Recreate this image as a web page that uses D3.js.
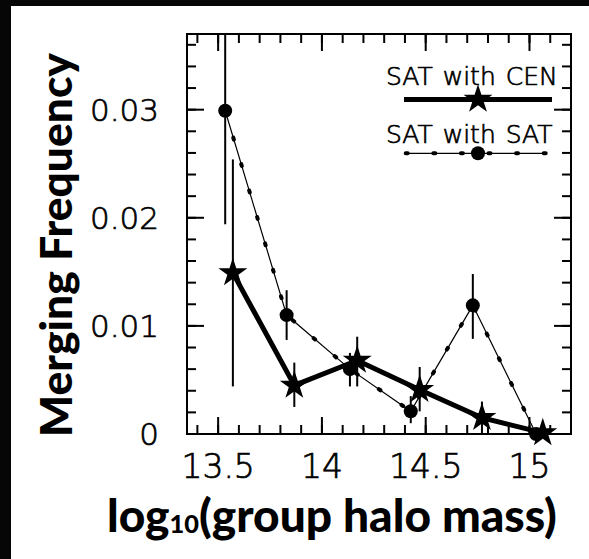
<!DOCTYPE html>
<html><head><meta charset="utf-8">
<script src="https://cdn.jsdelivr.net/npm/d3@7"></script>
<style>html,body{margin:0;padding:0;background:#050505;} svg{display:block}</style>
</head><body>
<svg id="c" width="589" height="559"></svg>
<script>
// ---- data ----
const cenX  = [13.571, 13.867, 14.170, 14.471, 14.771, 15.064];
const cenY  = [0.0149, 0.0045, 0.0068, 0.0041, 0.0015, 0.0001];
const cenLo = [0.0044, 0.0025, 0.0044, 0.0021, 0.0000, 0.0001];
const cenHi = [0.0254, 0.0066, 0.0090, 0.0062, 0.0030, 0.0001];
const satX  = [13.534, 13.830, 14.135, 14.428, 14.727, 15.032];
const satY  = [0.0299, 0.0110, 0.0060, 0.0021, 0.0119, 0.0000];
const satLo = [0.0194, 0.0087, 0.0044, 0.0010, 0.0088, 0.0000];
const satHi = [0.0404, 0.0133, 0.0075, 0.0035, 0.0148, 0.0000];
const xTickValues = [13.5, 14, 14.5, 15];
const xTickLabels = ["13.5", "14", "14.5", "15"];
const yTickValues = [0, 0.01, 0.02, 0.03];
const yTickLabels = ["0", "0.01", "0.02", "0.03"];
const legendLabels = ["SAT with CEN", "SAT with SAT"];
const xTitleParts = ["log", "10", "(group halo mass)"];
const yTitle = "Merging Frequency";

// ---- layout ----
const svg = d3.select("#c");
const L = 187, R = 571, T = 34, B = 434;
const x = d3.scaleLinear([13.35, 15.2], [L, R]);
const y = d3.scaleLinear([0, 0.037], [B, T]);
const tickFont = "'DejaVu Sans', 'Liberation Sans', sans-serif";
const titleFont = "'Comic Sans MS', 'Lato', 'Open Sans', sans-serif";

svg.append("rect").attr("x", 0).attr("y", 0).attr("width", 589).attr("height", 559).attr("fill", "#060606");
svg.append("rect").attr("x", 11).attr("y", 6).attr("width", 578).attr("height", 553).attr("fill", "#fff");

svg.append("defs").append("clipPath").attr("id", "plotclip")
  .append("rect").attr("x", L).attr("y", T).attr("width", R - L).attr("height", B - T);

// ---- ticks (inward, all four sides) ----
const xMinor = x.ticks(20).filter(v => v > 13.35 && v < 15.19);
const yMinor = y.ticks(20).filter(v => v > 0.0001 && v < 0.0369);
const gT = svg.append("g").attr("stroke", "#000").attr("stroke-width", 2);
function tickSet(vals, len, side) {
  vals.forEach(v => {
    if (side === "b") gT.append("line").attr("x1", x(v)).attr("x2", x(v)).attr("y1", B).attr("y2", B - len);
    if (side === "t") gT.append("line").attr("x1", x(v)).attr("x2", x(v)).attr("y1", T).attr("y2", T + len);
    if (side === "l") gT.append("line").attr("y1", y(v)).attr("y2", y(v)).attr("x1", L).attr("x2", L + len);
    if (side === "r") gT.append("line").attr("y1", y(v)).attr("y2", y(v)).attr("x1", R).attr("x2", R - len);
  });
}
["b", "t"].forEach(s => { tickSet(xMinor, 9, s); tickSet(xTickValues, 17, s); });
["l", "r"].forEach(s => { tickSet(yMinor, 9, s); tickSet(yTickValues, 17, s); });

svg.append("rect").attr("x", L).attr("y", T).attr("width", R - L).attr("height", B - T)
  .attr("fill", "none").attr("stroke", "#000").attr("stroke-width", 2);

// tick labels
function thin(sel) {
  return sel.attr("font-family", tickFont).attr("font-weight", 200).attr("fill", "#000")
    .attr("stroke", "#000").attr("stroke-width", 0.7);
}
thin(svg.append("g").selectAll("text").data(xTickValues).join("text")
  .attr("x", d => x(d)).attr("y", 478).attr("text-anchor", "middle").attr("font-size", 33)
  .text((d, i) => xTickLabels[i]));
thin(svg.append("g").selectAll("text").data(yTickValues).join("text")
  .attr("x", 159).attr("y", d => y(d) + 11).attr("text-anchor", "end").attr("font-size", 31)
  .text((d, i) => yTickLabels[i]));

// ---- data marks ----
const sat = satX.map((v, i) => ({ x: v, y: satY[i], lo: satLo[i], hi: satHi[i] }));
const cen = cenX.map((v, i) => ({ x: v, y: cenY[i], lo: cenLo[i], hi: cenHi[i] }));
const line = d3.line().x(d => x(d.x)).y(d => y(d.y));

// SAT with SAT: thin line with dots
svg.append("path").attr("d", line(sat)).attr("fill", "none").attr("stroke", "#000").attr("stroke-width", 1.2);
svg.append("path").attr("d", line(sat)).attr("fill", "none").attr("stroke", "#000").attr("stroke-width", 4)
  .attr("stroke-linecap", "round").attr("stroke-dasharray", "2 25.6").attr("stroke-dashoffset", -0.5);

// error bars
const gE = svg.append("g").attr("clip-path", "url(#plotclip)").attr("stroke", "#000").attr("stroke-width", 2);
gE.selectAll(".es").data(sat).join("line").attr("class", "es")
  .attr("x1", d => x(d.x)).attr("x2", d => x(d.x)).attr("y1", d => y(d.lo)).attr("y2", d => y(d.hi));
gE.selectAll(".ec").data(cen).join("line").attr("class", "ec")
  .attr("x1", d => x(d.x)).attr("x2", d => x(d.x)).attr("y1", d => y(d.lo)).attr("y2", d => y(d.hi));

svg.append("g").selectAll("circle").data(sat).join("circle")
  .attr("cx", d => x(d.x)).attr("cy", d => y(d.y)).attr("r", 7).attr("fill", "#000");

// SAT with CEN: thick line with stars
svg.append("path").attr("d", line(cen)).attr("fill", "none").attr("stroke", "#000").attr("stroke-width", 5)
  .attr("stroke-linejoin", "round");
const star = d3.symbol().type(d3.symbolStar).size(260);
svg.append("g").selectAll("path").data(cen).join("path")
  .attr("transform", d => `translate(${x(d.x)},${y(d.y)})`).attr("d", star()).attr("fill", "#000");

// ---- legend ----
const lg = svg.append("g");
thin(lg.append("text").attr("x", 386).attr("y", 85).attr("font-size", 25)
  .attr("word-spacing", 2).text(legendLabels[0]));
lg.append("line").attr("x1", 404).attr("x2", 552).attr("y1", 99.5).attr("y2", 99.5)
  .attr("stroke", "#000").attr("stroke-width", 5);
lg.append("path").attr("transform", "translate(478,99.5)").attr("d", star()).attr("fill", "#000");
thin(lg.append("text").attr("x", 386).attr("y", 143).attr("font-size", 25)
  .attr("word-spacing", 2).text(legendLabels[1]));
const legPts = [[404, 153.3], [547, 153.3]];
lg.append("path").attr("d", d3.line()(legPts)).attr("stroke", "#000").attr("stroke-width", 1.2);
lg.append("path").attr("d", d3.line()(legPts)).attr("stroke", "#000").attr("stroke-width", 4)
  .attr("stroke-linecap", "round").attr("stroke-dasharray", "2 25.6").attr("stroke-dashoffset", -1.7);
lg.append("circle").attr("cx", 478).attr("cy", 153.3).attr("r", 7).attr("fill", "#000");

// ---- axis titles ----
function fit(sel, target) {
  const w = sel.node().getComputedTextLength();
  const fs = parseFloat(sel.attr("font-size"));
  sel.attr("font-size", fs * target / w);
}
const xt = svg.append("text").attr("x", 107).attr("y", 532).attr("font-family", titleFont)
  .attr("font-weight", 900).attr("font-size", 40).attr("fill", "#000");
xt.append("tspan").text(xTitleParts[0]);
xt.append("tspan").attr("font-size", "0.55em").attr("dy", 1).text(xTitleParts[1]);
xt.append("tspan").attr("dy", -1).text(xTitleParts[2]);
fit(xt, 450);

const yt = svg.append("text").attr("transform", "translate(72,245) rotate(-90)").attr("text-anchor", "middle")
  .attr("font-family", titleFont).attr("font-weight", 900).attr("font-size", 40).attr("fill", "#000")
  .text(yTitle);
fit(yt, 384);
</script>
</body></html>
